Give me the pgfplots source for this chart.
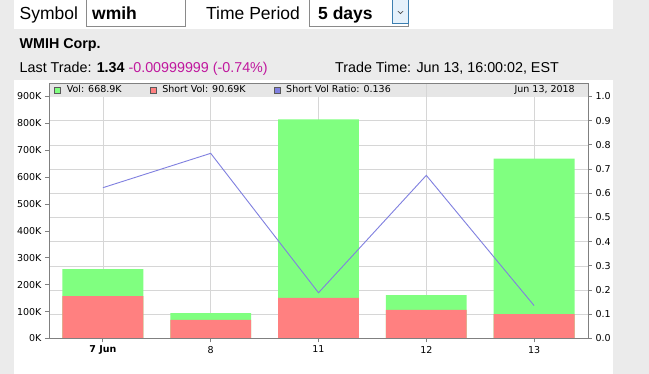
\documentclass[border=0pt]{standalone}
\usepackage{fontspec}
\setmainfont{Liberation Sans}
\newfontfamily\chartfont{DejaVu Sans}
\usepackage{pgfplots}
\usepackage{pgfplotstable}
\pgfplotsset{compat=1.18}

\definecolor{bggray}{HTML}{EBEBEB}
\definecolor{volgreen}{HTML}{80FF80}
\definecolor{shortred}{HTML}{FF8080}
\definecolor{ratioblue}{HTML}{8080E0}
\definecolor{axisgray}{HTML}{808080}
\definecolor{gridgray}{HTML}{D6D6D6}
\definecolor{bandgray}{HTML}{E6E6E6}
\definecolor{boxgray}{HTML}{8A8A8A}
\definecolor{selblue}{HTML}{3C7FB1}
\definecolor{selfill}{HTML}{E5F1FB}
\definecolor{magentatxt}{HTML}{C0189E}

\pgfplotstableread{
x vol short ratio
0 258400 158000 0.623
1 94800 68800 0.765
2 815000 150600 0.189
3 161700 106000 0.674
4 668900 90690 0.136
}\datatable

\newcommand{\chartsize}{\chartfont\fontsize{9.5}{11}\selectfont}

\begin{document}
\begin{tikzpicture}
\begin{scope}[x=1pt,y=-1pt]
\path[use as bounding box] (0,0) rectangle (649,374);
\fill[bggray] (0,0) rectangle (649,374);
\fill[white] (14,0) rectangle (613,29);
\fill[white] (14,80) rectangle (613,374);
% header controls
\node[anchor=base west, inner sep=0, font=\fontsize{17.5}{20}\selectfont] at (19.5,20) {Symbol};
\draw[boxgray, fill=white, line width=0.8pt] (86.5,-1) rectangle (185.5,26);
\node[anchor=base west, inner sep=0, font=\fontsize{17.5}{20}\selectfont\bfseries] at (92,20) {wmih};
\node[anchor=base west, inner sep=0, font=\fontsize{17.5}{20}\selectfont] at (206,20) {Time Period};
\draw[boxgray, fill=white, line width=0.8pt] (309.5,-1) rectangle (408.5,26);
\draw[selblue, fill=selfill, line width=0.8pt] (392.5,-1) rectangle (408.5,23);
\draw[black!70, line width=0.6pt] (397.8,11) -- (400.5,13.6) -- (403.2,11);
\node[anchor=base west, inner sep=0, font=\fontsize{17.5}{20}\selectfont\bfseries] at (318,20) {5 days};
% info lines
\node[anchor=base west, inner sep=0, font=\fontsize{14.3}{16}\selectfont\bfseries] at (19.5,48.5) {WMIH Corp.};
\node[anchor=base west, inner sep=0, font=\fontsize{14.3}{16}\selectfont] at (19.5,72.5) {Last Trade: \textbf{1.34} \textcolor{magentatxt}{-0.00999999 (-0.74\%)}};
\node[anchor=base west, inner sep=0, font=\fontsize{14.3}{16}\selectfont] at (335,72.5) {Trade Time: Jun 13, 16:00:02, EST};
\end{scope}

\begin{axis}[
  at={(49pt,-338.5pt)}, anchor=south west,
  scale only axis, width=539pt, height=255.5pt,
  xmin=-0.5, xmax=4.5, ymin=0, ymax=950000,
  xtick={0,1,2,3,4},
  xticklabels={\textbf{7 Jun},8,11,12,13},
  ytick={0,100000,200000,300000,400000,500000,600000,700000,800000,900000},
  yticklabels={0K,100K,200K,300K,400K,500K,600K,700K,800K,900K},
  scaled y ticks=false,
  xtick pos=lower, ytick pos=left,
  tick align=outside, major tick length=4pt,
  axis line style={axisgray, line width=0.8pt},
  every tick/.style={axisgray, line width=0.8pt},
  xmajorgrids, ymajorgrids=false,
  grid style={gridgray, line width=0.7pt},
  extra y ticks={90000,180000,270000,360000,450000,540000,630000,720000,810000,900000},
  extra y tick labels={},
  extra y tick style={grid=major, major tick length=0pt},
  tick label style={font=\chartsize, text=black},
  legend style={at={(0,1)}, anchor=west, xshift=5pt, yshift=-7pt,
    draw=none, fill=none, inner sep=0pt, font=\chartsize,
    /tikz/every odd column/.append style={column sep=4pt},
    /tikz/every even column/.append style={column sep=26pt}},
  legend columns=3, legend cell align=left,
]
\addplot[ybar, bar width=0.75, bar shift=0pt, fill=volgreen, draw=none,
  legend image code/.code={\draw[fill=volgreen, draw=black!65, line width=0.6pt] (0pt,-3pt) rectangle (6pt,3pt);}]
  table[x=x, y=vol]{\datatable};
\addlegendentry{Vol: 668.9K}
\addplot[ybar, bar width=0.75, bar shift=0pt, fill=shortred, draw=none,
  legend image code/.code={\draw[fill=shortred, draw=black!65, line width=0.6pt] (0pt,-3pt) rectangle (6pt,3pt);}]
  table[x=x, y=short]{\datatable};
\addlegendentry{Short Vol: 90.69K}
\addlegendimage{legend image code/.code={\draw[fill=ratioblue, draw=black!65, line width=0.6pt] (0pt,-3pt) rectangle (6pt,3pt);}}
\addlegendentry{Short Vol Ratio: 0.136}
\fill[bandgray] (rel axis cs:0,1) rectangle ([yshift=-14pt]rel axis cs:1,1);
\draw[gridgray, line width=0.7pt] ([yshift=-14pt]axis cs:3,950000) -- (axis cs:3,950000);
\node[anchor=east, inner sep=0pt, font=\chartsize] at ([xshift=-13pt, yshift=-7pt]rel axis cs:1,1) {Jun 13, 2018};
\draw[axisgray, line width=0.8pt] (rel axis cs:0,0) rectangle (rel axis cs:1,1);
\end{axis}

\begin{axis}[
  at={(49pt,-338.5pt)}, anchor=south west,
  scale only axis, width=539pt, height=255.5pt,
  xmin=-0.5, xmax=4.5, ymin=0, ymax=1.05556,
  axis y line*=right, axis x line=none,
  ytick={0,0.1,0.2,0.3,0.4,0.5,0.6,0.7,0.8,0.9,1.0},
  yticklabel style={/pgf/number format/.cd, fixed, fixed zerofill, precision=1, assume math mode=true},
  tick align=outside, major tick length=4pt,
  axis line style={axisgray, line width=0.8pt},
  every tick/.style={axisgray, line width=0.8pt},
  tick label style={font=\chartsize, text=black},
]
\addplot[ratioblue, line width=0.9pt, mark=none] table[x=x, y=ratio]{\datatable};
\end{axis}
\end{tikzpicture}
\end{document}
